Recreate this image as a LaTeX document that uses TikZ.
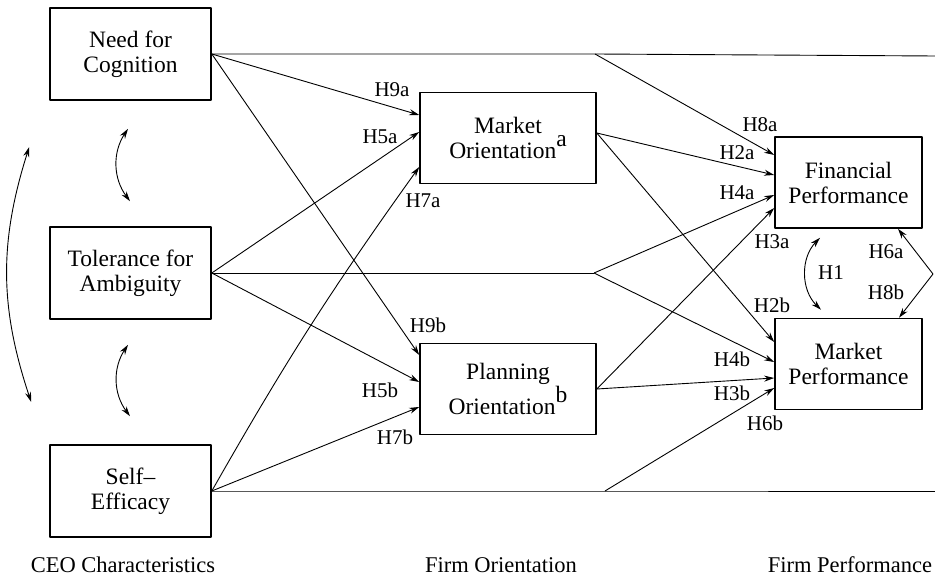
\documentclass[tikz,border=0pt]{standalone}
\usepackage{fontspec}
\setmainfont{Liberation Serif}
\usetikzlibrary{arrows.meta}
\newcommand{\upmark}[1]{\raisebox{0.5em}{#1}}
\begin{document}
\begin{tikzpicture}[x=1pt,y=1pt,>={Stealth[length=10pt,width=6pt]},line join=round,line width=0.9pt,
  box/.style={draw,line width=1.6pt,align=center,inner sep=0pt,font=\fontsize{23.5}{25}\selectfont},
  ceo/.style={box,minimum width=161pt,minimum height=92pt},
  orient/.style={box,minimum width=176pt,minimum height=91pt},
  perf/.style={box,minimum width=147pt,minimum height=91pt},
  lbl/.style={inner sep=0pt,font=\fontsize{21}{24}\selectfont},
  ttl/.style={inner sep=0pt,anchor=base,font=\fontsize{22.5}{25}\selectfont}]
\useasboundingbox (0,0) rectangle (935,576);
% CEO characteristics
\node[ceo] (nfc) at (130.5,522) {Need for\\Cognition};
\node[ceo] (tfa) at (130.5,303) {Tolerance for\\Ambiguity};
\node[ceo] (se) at (130.5,85) {Self--\\Efficacy};
% firm orientation
\node[orient] (mo) at (508,438) {Market\\Orientation\upmark{a}};
\node[orient] (po) at (508,187) {Planning\\Orientation\upmark{b}};
% firm performance
\node[perf] (fp) at (848.5,393.5) {Financial\\Performance};
\node[perf] (mp) at (848.5,212) {Market\\Performance};
% forks and edge points
\coordinate (f1) at (595,522);
\coordinate (e1) at (935,520);
\coordinate (f2) at (594,303);
\coordinate (f3) at (605,85);
\coordinate (e3) at (935,85);
\coordinate (e2) at (933,302);
% paths
\draw (nfc.east) -- (f1) -- (e1);
\draw[->] (f1) -- ([yshift=27.5pt]fp.west);
\draw[->] (nfc.east) -- ([yshift=23pt]mo.west);
\draw[->] (nfc.east) -- ([yshift=34pt]po.west);
\draw[->] (tfa.east) -- ([yshift=6pt]mo.west);
\draw[->] (tfa.east) -- ([yshift=7pt]po.west);
\draw (tfa.east) -- (f2);
\draw[->] (f2) -- ([yshift=-12.5pt]fp.west);
\draw[->] (f2) -- ([yshift=2pt]mp.west);
\draw[->] (se.east) to[bend left=3] ([yshift=-29pt]mo.west);
\draw[->] (se.east) -- ([yshift=-18pt]po.west);
\draw (se.east) -- (f3) -- (e3);
\draw[->] (f3) -- ([yshift=-24pt]mp.west);
\draw[->] ([yshift=5pt]mo.east) -- ([yshift=7.5pt]fp.west);
\draw[->] ([yshift=5pt]mo.east) -- ([yshift=22pt]mp.west);
\draw[->] (po.east) -- ([yshift=-25.5pt]fp.west);
\draw[->] (po.east) -- ([yshift=-14pt]mp.west);
\draw[->] (e2) -- ([xshift=49.5pt]fp.south);
\draw[->] (e2) -- ([xshift=50.5pt]mp.north);
% correlations
\draw[<->] ([shift={(-2.5,-28)}]nfc.south) to[bend right=35] ([shift={(-0.5,25)}]tfa.north);
\draw[<->] ([shift={(-2.5,-25)}]tfa.south) to[bend right=35] ([shift={(-0.5,28)}]se.north);
\draw[<->] ([shift={(-20,126)}]tfa.west) to[bend right=18] ([shift={(-18,-129)}]tfa.west);
\draw[<->] ([shift={(-28.5,-9)}]fp.south) to[bend right=45] ([shift={(-27.5,8)}]mp.north);
% hypotheses
\node[lbl] (h9a) at (392,486) {H9a};
\node[lbl] (h5a) at (380,439) {H5a};
\node[lbl] (h7a) at (423,375) {H7a};
\node[lbl] (h9b) at (428,251) {H9b};
\node[lbl] (h5b) at (380,186) {H5b};
\node[lbl] (h7b) at (395,139) {H7b};
\node[lbl] (h8a) at (760,451) {H8a};
\node[lbl] (h2a) at (737,423) {H2a};
\node[lbl] (h4a) at (737,383) {H4a};
\node[lbl] (h3a) at (772,334) {H3a};
\node[lbl] (h1) at (831,303) {H1};
\node[lbl] (h6a) at (886,324) {H6a};
\node[lbl] (h8b) at (886,284) {H8b};
\node[lbl] (h2b) at (772,271) {H2b};
\node[lbl] (h4b) at (732,217) {H4b};
\node[lbl] (h3b) at (732,183) {H3b};
\node[lbl] (h6b) at (765,153) {H6b};
% column titles
\node[ttl] (t1) at (123,3) {CEO Characteristics};
\node[ttl] (t2) at (501,3) {Firm Orientation};
\node[ttl] (t3) at (850,3) {Firm Performance};
\end{tikzpicture}
\end{document}
